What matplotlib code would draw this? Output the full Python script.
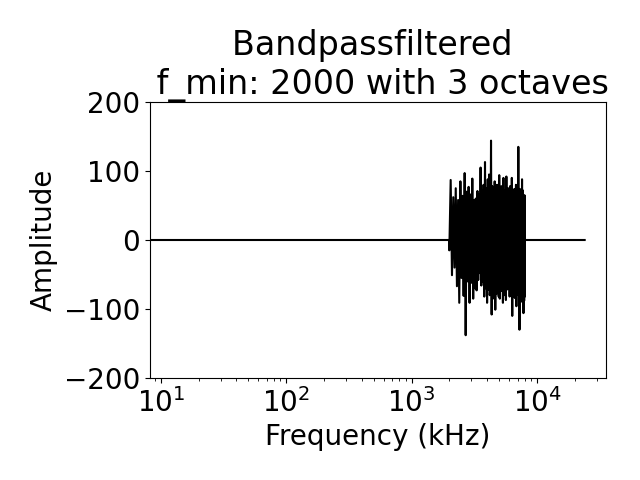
import matplotlib
matplotlib.use('Agg')
import matplotlib.pyplot as plt
import numpy as np

# flat (filtered out) parts of the spectrum
low_freq = [1.0, 11.72, 500.0, 1999.0]
low_amp = [0, 0, 0, 0]
high_freq = [8001.0, 16000.0, 24000.0]
high_amp = [0, 0, 0]

# pass band, 2000..8000 Hz in 50 Hz bins
band_amp = [
    -15, 87, -51, 62, -40, 75, -67, 58, -91, 85,
    -55, 64, -81, 97, -138, 70, -60, 77, -91, 66,
    -62, 89, -85, 58, -70, 60, -73, 71, -58, 66,
    -48, 105, -66, 72, -60, 80, -82, 113, -70, 75,
    -91, 88, -72, 95, -80, -65, 144, -108, 78, -85,
    70, -75, 85, -101, 72, -78, 80, -70, 75, -82,
    94, -85, 70, -66, 78, -74, 68, -91, 90, -70,
    72, -80, 65, -87, 92, -72, 70, -66, 75, -70,
    60, -82, 78, -75, 68, -80, 90, -110, 72, -78,
    70, -75, 74, -84, 66, -70, 80, -96, 70, -78,
    68, -72, 135, -80, 62, -130, 74, -76, 70, -82,
    66, -70, 88, -90, 72, 60, -106, 64, -88, 65,
    -82,
]
band_freq = np.linspace(2000, 8000, len(band_amp))

freq = np.concatenate([low_freq, band_freq, high_freq])
amp = np.concatenate([low_amp, band_amp, high_amp])

plt.rcParams['font.size'] = 20

fig, ax = plt.subplots(figsize=(6.4, 4.8), dpi=100)
fig.subplots_adjust(left=0.234, right=0.947, top=0.7875, bottom=0.2125)
ax.plot(freq, amp, color='k', linewidth=1.5)
ax.set_xscale('log')
ax.set_xlim(8.17, 35560)
ax.set_ylim(-200, 200)
ax.set_yticks([-200, -100, 0, 100, 200])
ax.set_title("Bandpassfiltered \n f_min: 2000 with 3 octaves")
ax.set_xlabel("Frequency (kHz)")
ax.set_ylabel("Amplitude")
plt.savefig('out.png')
